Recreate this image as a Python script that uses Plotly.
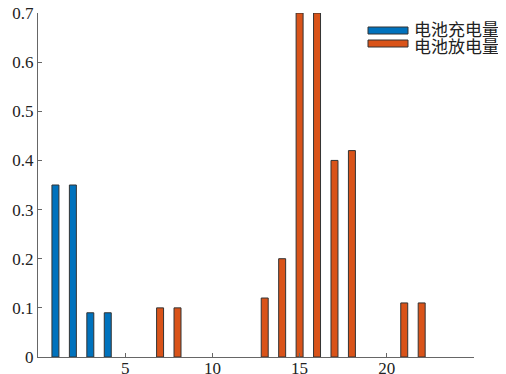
import plotly.graph_objects as go

x = list(range(1, 23))
charge = [0.35, 0.35, 0.09, 0.09, None, None, None, None, None, None, None, None, None, None, None, None, None, None, None, None, None, None]
discharge = [None, None, None, None, None, None, 0.10, 0.10, None, None, None, None, 0.12, 0.20, 0.70, 0.70, 0.40, 0.42, None, None, 0.11, 0.11]
names = ["电池充电量", "电池放电量"]
colors = ["#0072BD", "#D95319"]
xtick_vals = [5, 10, 15, 20, 25]
xtick_text = ["5", "10", "15", "20", ""]
ytick_vals = [0, 0.1, 0.2, 0.3, 0.4, 0.5, 0.6, 0.7]
ytick_text = ["0", "0.1", "0.2", "0.3", "0.4", "0.5", "0.6", "0.7"]

fig = go.Figure()
for series, nm, col in [(charge, names[0], colors[0]), (discharge, names[1], colors[1])]:
    fig.add_trace(go.Bar(x=x, y=series, name=nm, width=0.4, showlegend=False,
                         marker=dict(color=col, line=dict(color="#333333", width=1))))

# MATLAB-style legend with wide swatches (paper coordinates of plot area)
W, H, L, B = 436.0, 344.0, 38.0, 357.0
def px(v): return (v - L) / W
def py(v): return (B - v) / H
swatch_rows = [(27, 34, 29), (40, 47, 46)]
for (y0, y1, yt), nm, col in zip(swatch_rows, names, colors):
    fig.add_shape(type="rect", xref="paper", yref="paper",
                  x0=px(368), x1=px(408), y0=py(y1), y1=py(y0),
                  fillcolor=col, line=dict(color="#333333", width=1))
    fig.add_annotation(xref="paper", yref="paper", x=px(412), y=py(yt),
                       xanchor="left", yanchor="middle", showarrow=False, text=nm,
                       font=dict(family="Noto Sans CJK SC", size=17, color="#222222"))

# page body has an 8px margin, so offsets are compensated here
fig.update_layout(
    width=506, height=374,
    margin=dict(l=30, r=40, t=5, b=25, autoexpand=False),
    barmode="overlay",
    plot_bgcolor="white", paper_bgcolor="white",
    font=dict(family="Liberation Serif", size=17, color="#222222"),
    showlegend=False,
)
fig.update_xaxes(range=[0, 25], tickvals=xtick_vals, ticktext=xtick_text, automargin=False,
                 ticklabeloverflow="allow", ticklabelstandoff=-4,
                 showgrid=False, zeroline=False, showline=True, linecolor="#666666", linewidth=1,
                 ticks="inside", ticklen=4, tickcolor="#666666")
fig.update_yaxes(range=[0, 0.7], tickvals=ytick_vals, ticktext=ytick_text, automargin=False,
                 ticklabeloverflow="allow",
                 showgrid=False, zeroline=False, showline=True, linecolor="#666666", linewidth=1,
                 ticks="inside", ticklen=4, tickcolor="#666666")

fig.write_html("out.html")
